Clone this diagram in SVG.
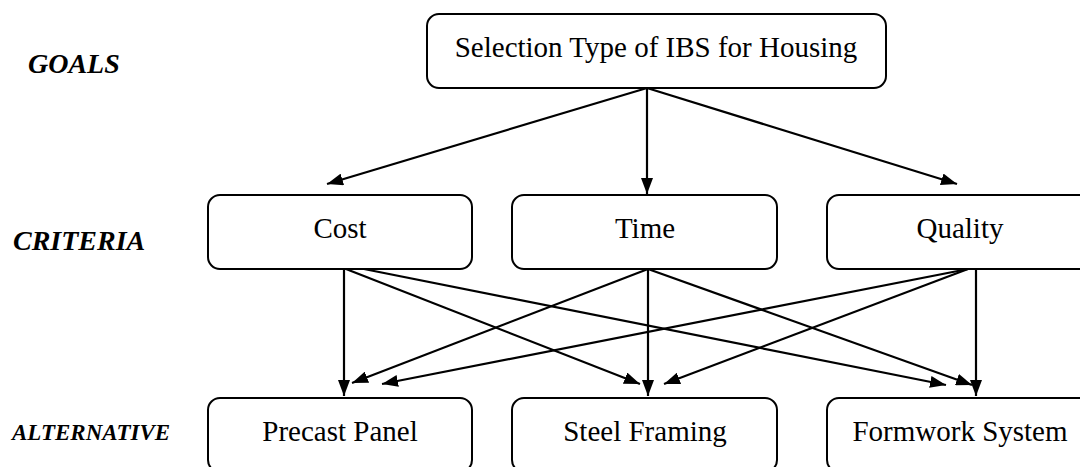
<svg xmlns="http://www.w3.org/2000/svg" width="1080" height="467" viewBox="0 0 1080 467">
<style>
.box{fill:#fff;stroke:#000;stroke-width:2}
.t{font-family:"Liberation Serif","Times New Roman",serif;font-size:29px;fill:#000;text-anchor:middle}
.lab{font-family:"Liberation Serif","Times New Roman",serif;font-weight:bold;font-style:italic;fill:#000}
.c{stroke:#000;stroke-width:2.2;fill:none;marker-end:url(#ah)}
</style>
<defs>
<marker id="ah" viewBox="0 0 16 12" refX="16" refY="6" markerWidth="16" markerHeight="12" markerUnits="userSpaceOnUse" orient="auto">
<path d="M0,0 L16,6 L0,12 Z" fill="#000"/>
</marker>
</defs>
<rect width="1080" height="467" fill="#fff"/>
<g id="labels">
<text class="lab" x="28" y="73" font-size="28">GOALS</text>
<text class="lab" x="13" y="250" font-size="28">CRITERIA</text>
<text class="lab" x="12" y="440" font-size="23">ALTERNATIVE</text>
</g>
<g id="connectors">
<line class="c" x1="647" y1="88" x2="327" y2="184"/>
<line class="c" x1="647" y1="88" x2="647" y2="194"/>
<line class="c" x1="647" y1="88" x2="957" y2="184"/>
<line class="c" x1="344" y1="269" x2="344" y2="396"/>
<line class="c" x1="346" y1="269" x2="640" y2="384"/>
<line class="c" x1="364" y1="269" x2="946" y2="385"/>
<line class="c" x1="648" y1="269" x2="352" y2="383"/>
<line class="c" x1="648" y1="269" x2="648" y2="396"/>
<line class="c" x1="648" y1="269" x2="972" y2="385"/>
<line class="c" x1="968" y1="269" x2="382" y2="384"/>
<line class="c" x1="968" y1="269" x2="664" y2="384"/>
<line class="c" x1="976" y1="269" x2="976" y2="396"/>
</g>
<g id="goal">
<rect class="box" x="427" y="14" width="459" height="74" rx="12"/>
<text class="t" x="656" y="57">Selection Type of IBS for Housing</text>
</g>
<g id="cost">
<rect class="box" x="208" y="195" width="264" height="74" rx="12"/>
<text class="t" x="340" y="238">Cost</text>
</g>
<g id="time">
<rect class="box" x="512" y="195" width="265" height="74" rx="12"/>
<text class="t" x="645" y="238">Time</text>
</g>
<g id="quality">
<rect class="box" x="827" y="195" width="266" height="74" rx="12"/>
<text class="t" x="960" y="238">Quality</text>
</g>
<g id="precast">
<rect class="box" x="208" y="398" width="264" height="74" rx="12"/>
<text class="t" x="340" y="441">Precast Panel</text>
</g>
<g id="steel">
<rect class="box" x="512" y="398" width="265" height="74" rx="12"/>
<text class="t" x="645" y="441">Steel Framing</text>
</g>
<g id="formwork">
<rect class="box" x="827" y="398" width="266" height="74" rx="12"/>
<text class="t" x="960" y="441">Formwork System</text>
</g>
</svg>
